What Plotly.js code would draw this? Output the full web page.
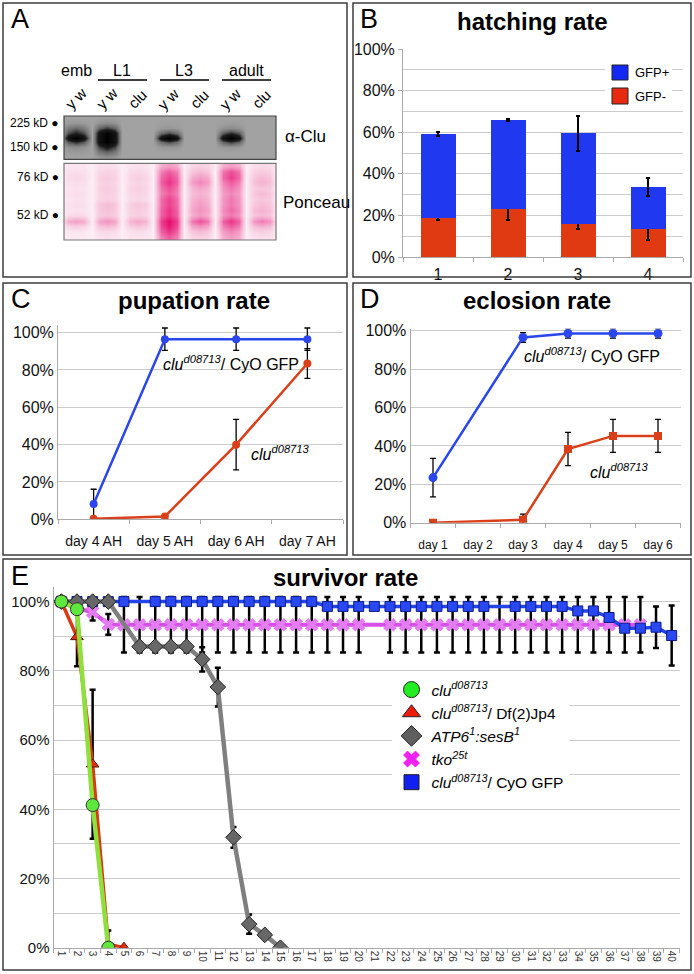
<!DOCTYPE html>
<html><head><meta charset="utf-8">
<script src="https://cdn.plot.ly/plotly-3.0.1.min.js"></script>
<style>html,body{margin:0;padding:0;background:#fff}#chart{width:694px;height:974px}</style>
</head><body><div id="chart"></div>
<script>
// ---------------- DATA ----------------
// Panel A (western blot, lane intensities)
const blotLaneLabels = ['y w','y w','clu','y w','clu','y w','clu'];
const blotStageLabels = ['emb','L1','L3','adult'];
const blotStageLanes = [0, 1.5, 3.5, 5.5];
const mwLabels = ['225 kD','150 kD','76 kD','52 kD'];
const cluBlotRows = [
  [0.00,0.02,0,0.00,0,0.00,0],
  [0.06,0.12,0,0.02,0,0.03,0],
  [0.30,0.45,0,0.06,0,0.12,0],
  [0.55,0.95,0,0.40,0,0.50,0],
  [1.00,1.00,0,1.00,0,1.00,0],
  [0.50,1.00,0,0.40,0,0.45,0],
  [0.12,0.60,0,0.06,0,0.06,0],
  [0.05,0.32,0,0.00,0,0.00,0],
  [0.00,0.10,0,0.00,0,0.00,0]
];
const ponceauRows = [
  [0.08,0.12,0.10,0.45,0.20,0.45,0.15],
  [0.12,0.18,0.15,0.70,0.30,0.75,0.22],
  [0.16,0.22,0.20,0.80,0.45,0.82,0.30],
  [0.12,0.20,0.18,0.85,0.55,0.70,0.35],
  [0.10,0.22,0.20,0.75,0.40,0.60,0.25],
  [0.12,0.20,0.18,0.70,0.35,0.55,0.30],
  [0.10,0.20,0.15,0.80,0.40,0.60,0.25],
  [0.12,0.30,0.25,0.80,0.45,0.60,0.30],
  [0.10,0.28,0.22,0.85,0.50,0.65,0.35],
  [0.15,0.25,0.20,0.85,0.45,0.60,0.30],
  [0.45,0.50,0.40,1.00,0.75,0.85,0.60],
  [0.20,0.30,0.25,0.95,0.50,0.70,0.35],
  [0.08,0.15,0.12,0.85,0.30,0.55,0.20],
  [0.05,0.10,0.08,0.70,0.20,0.45,0.12]
];

// Panel B: hatching rate
const hatchCats = ['1','2','3','4'];
const hatchGfpMinus = [18.6, 23.2, 15.9, 13.6];
const hatchGfpMinusErr = [0.6, 5.2, 2.2, 5.6];
const hatchGfpPlus = [40.5, 42.7, 43.6, 20.1];
const hatchGfpPlusErr = [0.9, 0.6, 8.5, 4.5];

// Panel C: pupation rate
const pupDays = ['day 4 AH','day 5 AH','day 6 AH','day 7 AH'];
const pupCyO = [8.2, 96.5, 96.5, 96.5];
const pupCyOErr = [7.9, 6, 6, 6];
const pupClu = [0.3, 1.5, 40, 83.5];
const pupCluErr = [0, 0, 13.5, 8];

// Panel D: eclosion rate
const eclDays = ['day 1','day 2','day 3','day 4','day 5','day 6'];
const eclCyO = [23.5, null, 96.5, 98.6, 98.6, 98.6];
const eclCyOErr = [10, 0, 2.5, 2.5, 2.5, 2.5];
const eclClu = [0, null, 1.5, 38.4, 45.2, 45.2];
const eclCluErr = [0, 0, 3, 8.7, 8.6, 8.6];

// Panel E: survivor rate
const survDays = [1,2,3,4,5,6,7,8,9,10,11,12,13,14,15,16,17,18,19,20,21,22,23,24,25,26,27,28,29,30,31,32,33,34,35,36,37,38,39,40];
const survCyO = [100,100,100,100,100,null,100,100,100,100,100,100,100,100,100,100,100,98.6,98.6,98.6,98.6,98.6,98.6,98.6,98.6,98.6,98.6,98.6,null,98.6,98.6,98.6,98.6,97.3,97.3,95.4,92.3,92.3,92.6,90.2];
const survCyOErr = [0,0,0,0,0,0,0,0,0,0,0,0,0,0,0,0,0,0,0,0,0,0,0,0,0,0,0,0,0,0,0,0,0,0,0,0,0,0,6,8.7];
const survTkoDays = [1,2,3,4,5,6,7,8,9,10,11,12,13,14,15,16,17,18,19,20,21,22,23,24,25,26,27,28,29,30,31,32,33,34,35,36,37,38];
const survTko = [100,98,97,93.4,93.3,93.3,93.3,93.3,93.3,93.3,93.3,93.3,93.3,93.3,93.3,93.3,93.3,93.3,93.3,93.3,null,93.3,93.3,93.3,93.3,93.3,93.3,93.3,93.3,93.3,93.3,93.3,93.3,93.3,93.3,93.3,93.3,93.3];
const survTkoErr = [0,0,2.5,3,8,8,8,8,8,8,8,8,8,8,8,8,8,8,8,8,8,8,8,8,8,8,8,8,8,8,8,8,8,8,8,8,8,8];
const survAtpDays = [1,2,3,4,5,6,7,8,9,10,11,12,13,14,15];
const survAtp = [100,100,100,100,null,87,87,87,87,83.3,75.3,31.9,6.8,3.7,0];
const survAtpErr = [0,0,0,0,0,0,0,0,0,3.5,5.6,3,2.8,0,0];
const survDfDays = [1,2,3,4,5];
const survDf = [100,89.8,53,1,0];
const survDfErr = [0,8.5,21.5,4,0];
const survCluDays = [1,2,3,4];
const survClu = [100,97.8,41.2,0];

// ---------------- HELPERS ----------------
const W = 694, H = 974;
const FONT = 'Liberation Sans, Arial, sans-serif';
const px = x => x / W;
const py = y => 1 - y / H;

function blotColumns(n){ const c=[-0.5]; for(let i=0;i<n;i++){c.push(i-0.25,i,i+0.25,i+0.5);} return c; }
function blotZ(rows, edge, gap){
  return rows.map(r => { const z=[gap]; r.forEach(v=>{ const e=gap+(v-gap)*edge; z.push(e, Math.max(v,gap), e, gap);}); return z; });
}
const idx = n => Array.from({length:n},(_,i)=>i);

const BLUE='#2A46EC', RED='#D9401A';
const eb = (arr, th, w) => ({type:'data', array:arr, visible:true, color:'#000', thickness:th, width:w});

// ---------------- TRACES ----------------
const traces = [];
// Panel A
traces.push({type:'heatmap', xaxis:'x5', yaxis:'y5', x:blotColumns(7), y:idx(cluBlotRows.length),
  z:blotZ(cluBlotRows,0.7,0), zmin:0, zmax:1, zsmooth:'best', showscale:false, hoverinfo:'skip',
  colorscale:[[0,'#a2a2a2'],[0.3,'#6a6a6a'],[0.55,'#1c1c1c'],[1,'#000000']]});
traces.push({type:'heatmap', xaxis:'x6', yaxis:'y6', x:blotColumns(7), y:idx(ponceauRows.length),
  z:blotZ(ponceauRows,0.8,0.03), zmin:0, zmax:1, zsmooth:'best', showscale:false, hoverinfo:'skip',
  colorscale:[[0,'#fcf3f8'],[0.25,'#f7c6dc'],[0.5,'#f292c0'],[0.75,'#ee4f98'],[1,'#e8096c']]});
// Panel B
traces.push({type:'bar', x:hatchCats, y:hatchGfpMinus, name:'GFP-', marker:{color:'#E03A12'}, width:0.5,
  error_y:eb(hatchGfpMinusErr,2,2), showlegend:false, xaxis:'x', yaxis:'y'});
traces.push({type:'bar', x:hatchCats, y:hatchGfpPlus, name:'GFP+', marker:{color:'#2038F0'}, width:0.5,
  error_y:eb(hatchGfpPlusErr,2,2), showlegend:false, xaxis:'x', yaxis:'y'});
// Panel C
traces.push({type:'scatter', mode:'lines+markers', x:pupDays, y:pupCyO, xaxis:'x2', yaxis:'y2', showlegend:false,
  line:{color:BLUE,width:2.5}, marker:{color:BLUE,size:8}, error_y:eb(pupCyOErr,1.3,3)});
traces.push({type:'scatter', mode:'lines+markers', x:pupDays, y:pupClu, xaxis:'x2', yaxis:'y2', showlegend:false,
  line:{color:RED,width:2.5}, marker:{color:RED,size:8}, error_y:eb(pupCluErr,1.3,3)});
// Panel D
traces.push({type:'scatter', mode:'lines+markers', x:eclDays, y:eclCyO, xaxis:'x3', yaxis:'y3', showlegend:false, connectgaps:true,
  line:{color:BLUE,width:2.5}, marker:{color:BLUE,size:9}, error_y:eb(eclCyOErr,1.3,3)});
traces.push({type:'scatter', mode:'lines+markers', x:eclDays, y:eclClu, xaxis:'x3', yaxis:'y3', showlegend:false, connectgaps:true,
  line:{color:RED,width:2.5}, marker:{color:RED,size:8,symbol:'square'}, error_y:eb(eclCluErr,1.3,3)});
// Panel E
traces.push({type:'scatter', mode:'lines+markers', x:survTkoDays, y:survTko, xaxis:'x4', yaxis:'y4', showlegend:false, connectgaps:true,
  line:{color:'#D84EE8',width:4}, marker:{color:'#E47CF2',size:12,symbol:'x'}, error_y:eb(survTkoErr,2.5,3)});
traces.push({type:'scatter', mode:'lines+markers', x:survDays, y:survCyO, xaxis:'x4', yaxis:'y4', showlegend:false, connectgaps:true,
  line:{color:'#2244E8',width:3.5}, marker:{color:'#2A48F2',size:10,symbol:'square',line:{color:'#0c1c8c',width:1}}, error_y:eb(survCyOErr,2.5,3)});
traces.push({type:'scatter', mode:'lines+markers', x:survAtpDays, y:survAtp, xaxis:'x4', yaxis:'y4', showlegend:false, connectgaps:true,
  line:{color:'#7f7f7f',width:4.5}, marker:{color:'#676767',size:12,symbol:'diamond',line:{color:'#222',width:1}}, error_y:eb(survAtpErr,2.5,3)});
traces.push({type:'scatter', mode:'lines+markers', x:survDfDays, y:survDf, xaxis:'x4', yaxis:'y4', showlegend:false,
  line:{color:'#D93A12',width:3.5}, marker:{color:'#E2300E',size:11,symbol:'triangle-up',line:{color:'#5a1000',width:1}}, error_y:eb(survDfErr,2.5,3)});
traces.push({type:'scatter', mode:'lines+markers', x:survCluDays, y:survClu, xaxis:'x4', yaxis:'y4', showlegend:false,
  line:{color:'#8EE03C',width:4.5}, marker:{color:'#5EE83E',size:13,symbol:'circle',line:{color:'#333',width:1}}});
// Legend keys for panel E
const legendKeys = [
  {name:'<i>clu<sup>d08713</sup></i>', symbol:'circle', color:'#22EE22', size:16},
  {name:'<i>clu<sup>d08713</sup></i>/ Df(2)Jp4', symbol:'triangle-up', color:'#EE1A0A', size:16},
  {name:'<i>ATP6<sup>1</sup>:sesB<sup>1</sup></i>', symbol:'diamond', color:'#5f5f5f', size:16},
  {name:'<i>tko<sup>25t</sup></i>', symbol:'x', color:'#F020F0', size:14},
  {name:'<i>clu<sup>d08713</sup></i>/ CyO GFP', symbol:'square', color:'#1020F0', size:15}
];
legendKeys.forEach(k => traces.push({type:'scatter', mode:'markers', x:[null], y:[null], xaxis:'x4', yaxis:'y4',
  name:k.name, legend:'legend2', showlegend:true,
  marker:{symbol:k.symbol, color:k.color, size:k.size, line:{color: k.symbol==='x' ? k.color : '#222', width:1}}}));

// ---------------- LAYOUT ----------------
const gridC = '#cccccc', lineC = '#aaaaaa';
function yAx(domain, range, minor){
  const a = {domain, range, dtick:20, ticksuffix:'%', showgrid:true, gridcolor:gridC, gridwidth:1, zeroline:false,
    showline:true, linecolor:lineC, ticks:'', tickfont:{size:16,color:'#111',family:FONT}, fixedrange:true};
  if(minor) a.minor = {dtick:10, showgrid:true, gridcolor:gridC, gridwidth:1};
  return a;
}
function xCat(domain, range, size, standoff){
  return {domain, type:'category', range, tickson:'boundaries', ticks:'outside', ticklen:4, tickcolor:lineC,
    showline:true, linecolor:lineC, showgrid:false, zeroline:false, tickfont:{size, color:'#111', family:FONT},
    ticklabelstandoff:standoff, fixedrange:true};
}

const annotations = [];
const ann = (text, x, y, size, opts={}) => annotations.push(Object.assign({text, x:px(x), y:py(y), xref:'paper', yref:'paper',
  showarrow:false, font:{size, family:FONT, color:'#000'}, xanchor:'center', yanchor:'middle'}, opts));
// panel letters
ann('A', 9, 19, 27, {xanchor:'left'});
ann('B', 358, 19, 27, {xanchor:'left'});
ann('C', 9, 299, 27, {xanchor:'left'});
ann('D', 358, 299, 27, {xanchor:'left'});
ann('E', 9, 576, 27, {xanchor:'left'});
// titles
ann('<b>hatching rate</b>', 532, 22, 24);
ann('<b>pupation rate</b>', 194, 300, 24);
ann('<b>eclosion rate</b>', 537, 300, 24);
ann('<b>survivor rate</b>', 345, 577, 24);
// panel C / D labels
ann('<i>clu<sup>d08713</sup></i>/ CyO GFP', 161, 363, 16, {xanchor:'left'});
ann('<i>clu<sup>d08713</sup></i>', 249, 453, 16, {xanchor:'left'});
ann('<i>clu<sup>d08713</sup></i>/ CyO GFP', 522, 355, 16, {xanchor:'left'});
ann('<i>clu<sup>d08713</sup></i>', 588, 471, 16, {xanchor:'left'});
// panel B legend text
ann('GFP+', 633, 72.5, 13, {xanchor:'left'});
ann('GFP-', 633, 96, 13, {xanchor:'left'});
// panel A texts
blotStageLabels.forEach((t,i)=>annotations.push({text:t, xref:'x5', x:blotStageLanes[i], yref:'paper', y:py(70), showarrow:false,
  font:{size:16,family:FONT,color:'#000'}, xanchor:'center', yanchor:'middle'}));
blotLaneLabels.forEach((t,i)=>annotations.push({text:t, xref:'x5', x:i, yref:'paper', y:py(99), showarrow:false, textangle:-45,
  font:{size:15,family:FONT,color:'#000'}, xanchor:'center', yanchor:'middle'}));
[122.7,146.7,176.7,215].forEach((y,i)=>ann(mwLabels[i]+' \u25CF', 61, y, 12, {xanchor:'right'}));
ann('\u03B1-Clu', 283, 137, 17, {xanchor:'left'});
ann('Ponceau', 281, 202, 17, {xanchor:'left'});

const shapes = [];
const rect = (x0,y0,x1,y1,line,fill,extra={}) => shapes.push(Object.assign({type:'rect', xref:'paper', yref:'paper',
  x0:px(x0), x1:px(x1), y0:py(y0), y1:py(y1), line, fillcolor:fill||'rgba(0,0,0,0)', layer:'above'}, extra));
// panel frames
const frame = {color:'#3c3c3c', width:1.5};
rect(3,3,347,277,frame); rect(353,3,691,277,frame); rect(3,283,347,555,frame); rect(353,283,691,555,frame); rect(3,559,691,970,frame);
// blot frames
rect(64,116,276,159.3,{color:'#444',width:1.2});
rect(64,163.3,276,240,{color:'#777',width:1.2});
// stage underlines
[[1.5],[3.5],[5.5]].forEach(([c])=>shapes.push({type:'line', xref:'x5', yref:'paper', x0:c-0.79, x1:c+0.79, y0:py(80), y1:py(80), line:{color:'#000',width:1.5}}));
// B legend
rect(605,58,672,110,{width:0},'#ffffff');
rect(612,65,628,80,{color:'#222',width:1},'#1428F4');
rect(612,88,628,104,{color:'#222',width:1},'#E82A10');

const layout = {
  width:W, height:H, margin:{l:0,r:0,t:0,b:0}, paper_bgcolor:'#fff', plot_bgcolor:'rgba(0,0,0,0)',
  font:{family:FONT, color:'#000'}, barmode:'stack', showlegend:true,
  xaxis: Object.assign(xCat([px(403),px(683)], [-0.5,3.5], 16, 3), {anchor:'y'}),
  yaxis: Object.assign(yAx([py(257),py(49)], [0,100], true), {anchor:'x', ticks:'outside', ticklen:4, tickcolor:lineC}),
  xaxis2: Object.assign(xCat([px(58),px(343)], [-0.5,3.5], 14, 9), {anchor:'y2'}),
  yaxis2: Object.assign(yAx([py(519.3),py(325.2)], [0,104], false), {anchor:'x2'}),
  xaxis3: Object.assign(xCat([px(410.5),px(680.5)], [-0.5,5.5], 12, 11), {anchor:'y3'}),
  yaxis3: Object.assign(yAx([py(522.7),py(328.8)], [0,101], false), {anchor:'x3'}),
  xaxis4: {domain:[px(53.5),px(679.5)], anchor:'y4', range:[0.5,40.5], tickmode:'linear', tick0:1, dtick:1, ticks:'',
    tickangle:90, tickfont:{size:10,color:'#333',family:FONT}, showline:true, linecolor:lineC, showgrid:false, zeroline:false,
    minor:{ticks:'outside', tick0:0.5, dtick:1, ticklen:4, tickcolor:lineC}, fixedrange:true},
  yaxis4: Object.assign(yAx([py(947.7),py(586.7)], [0,104.3], true), {anchor:'x4', tickfont:{size:15,color:'#111',family:FONT}}),
  xaxis5: {domain:[px(64),px(276)], anchor:'y5', range:[-0.387,6.452], visible:false, fixedrange:true},
  yaxis5: {domain:[py(159.3),py(116)], anchor:'x5', range:[cluBlotRows.length-0.5,-0.5], visible:false, fixedrange:true},
  xaxis6: {domain:[px(64),px(276)], anchor:'y6', range:[-0.387,6.452], visible:false, fixedrange:true},
  yaxis6: {domain:[py(240),py(163.3)], anchor:'x6', range:[ponceauRows.length-0.5,-0.5], visible:false, fixedrange:true},
  legend2: {x:px(391.5), y:py(673), xanchor:'left', yanchor:'top', bgcolor:'#ffffff', borderwidth:0,
    font:{size:15.5,family:FONT,color:'#000'}, itemsizing:'trace', tracegroupgap:0},
  annotations, shapes
};

Plotly.newPlot('chart', traces, layout, {staticPlot:true, displayModeBar:false});
</script></body></html>
